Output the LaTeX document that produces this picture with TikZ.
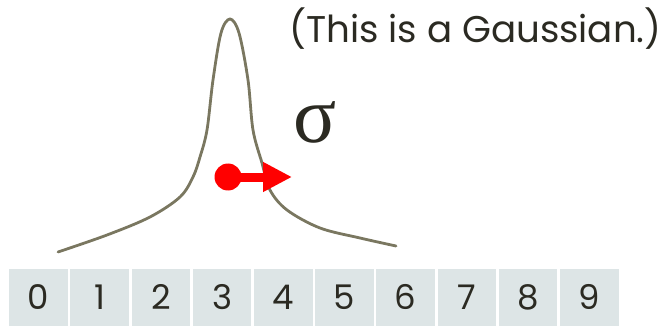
\documentclass[tikz,border=0pt]{standalone}
\usepackage{fontspec}
\setmainfont{Poppins}
\newfontfamily\sigmafont{Liberation Serif}
\usepackage{xcolor}
\usepackage{tikz}
\usetikzlibrary{arrows.meta, positioning}
\definecolor{cellgray}{RGB}{221, 229, 230}
\definecolor{curveolive}{RGB}{122, 119, 96}
\definecolor{inkdark}{RGB}{43, 42, 34}
\definecolor{pointred}{RGB}{255, 0, 0}

\begin{document}
\begin{tikzpicture}[x=1pt, y=-1pt, text=inkdark]
            \useasboundingbox (0,0) rectangle (664,326);

            % the ten cells
            \foreach \i in {0,...,9}
                \node[rectangle, fill=cellgray, minimum width=58.5pt, minimum height=57pt, inner sep=0pt, font=\fontsize{34}{34}\selectfont] (c\i) at (38.5+61.2*\i, 297) {\i};

            % the bell curve
            \draw[curveolive, line width=2.8pt, line cap=round] plot[smooth, tension=0.55] coordinates {
                (58,252) (107,235) (150,217) (180,197) (193,177) (200,157) (207,130) (213,80) (221,33) (230,19)
                (239,33) (248,80) (253,130) (262,163) (270,190) (287,210) (320,228) (360,238) (396,246)};

            \node[circle, fill=pointred, minimum size=27pt, inner sep=0pt] (dot) at (228,177) {};
            \coordinate (tip) at (292,177);
            \draw[-{Triangle[length=29pt, width=28pt]}, pointred, line width=9pt] (dot.center) -- (tip);

            \node[font=\sigmafont\fontsize{80}{80}\selectfont] (sigma) at (315,122) {σ};
            \node[anchor=base west, inner sep=0pt, font=\fontsize{37.2}{37.2}\selectfont] (note) at (289,43) {(This is a Gaussian.)};
        \end{tikzpicture}
\end{document}
